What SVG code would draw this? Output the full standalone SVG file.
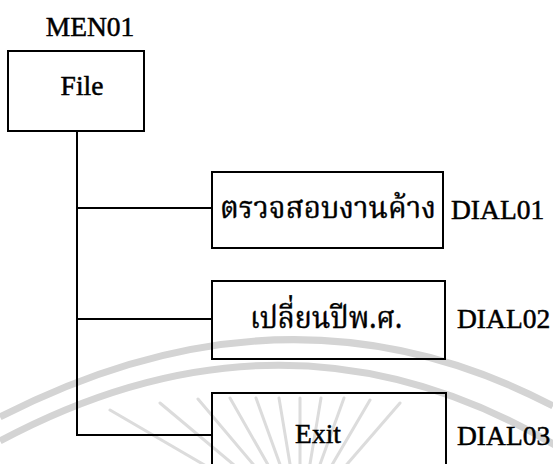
<svg xmlns="http://www.w3.org/2000/svg" width="553" height="464" viewBox="0 0 553 464">
<style>
.box{fill:none;stroke:#000;stroke-width:2}
.ln{fill:none;stroke:#000;stroke-width:2}
.lat{font-family:"Liberation Serif","Times New Roman",serif;font-size:27.5px;fill:#000;stroke:#000;stroke-width:0.5}
.th{font-family:"Noto Serif Thai","Noto Sans Thai","Noto Sans",serif;font-size:31px;fill:#000;stroke:#000;stroke-width:0.4}
.wm{fill:none;stroke:#d4d4d4;stroke-width:7}
.ray{stroke:#dcdcdc;stroke-width:3;stroke-linecap:round}
</style>
<rect width="553" height="464" fill="#fff"/>
<g id="watermark">
<path class="wm" d="M0,417 Q290,268 553,406"/>
<path class="wm" d="M0,441 Q290,286 560,448"/>
<g class="ray">
<line x1="213" y1="470" x2="110" y2="410"/>
<line x1="240" y1="470" x2="160" y2="403"/>
<line x1="258" y1="470" x2="198" y2="399"/>
<line x1="271" y1="470" x2="230" y2="398"/>
<line x1="282" y1="470" x2="256" y2="398"/>
<line x1="291" y1="470" x2="279" y2="398"/>
<line x1="300" y1="470" x2="300" y2="398"/>
<line x1="309" y1="470" x2="321" y2="398"/>
<line x1="318" y1="470" x2="344" y2="398"/>
<line x1="329" y1="470" x2="370" y2="400"/>
<line x1="342" y1="470" x2="400" y2="403"/>
</g>
</g>
<g id="connectors">
<line class="ln" x1="77" y1="131" x2="77" y2="436"/>
<line class="ln" x1="76" y1="208" x2="212" y2="208"/>
<line class="ln" x1="76" y1="319" x2="212" y2="319"/>
<line class="ln" x1="76" y1="435" x2="212" y2="435"/>
</g>
<g id="MEN01">
<text class="lat" x="90" y="36" text-anchor="middle">MEN01</text>
<rect class="box" x="8" y="51" width="136" height="80"/>
<text class="lat" x="82" y="95" text-anchor="middle">File</text>
</g>
<g id="DIAL01">
<rect class="box" x="212" y="172" width="231" height="76"/>
<text class="th" x="220" y="218" textLength="216" lengthAdjust="spacingAndGlyphs">ตรวจสอบงานค้าง</text>
<text class="lat" x="451" y="219">DIAL01</text>
</g>
<g id="DIAL02">
<rect class="box" x="212" y="281" width="233" height="78"/>
<text class="th" x="250" y="328" textLength="152" lengthAdjust="spacingAndGlyphs">เปลี่ยนปีพ.ศ.</text>
<text class="lat" x="457" y="328">DIAL02</text>
</g>
<g id="DIAL03">
<rect class="box" x="212" y="393" width="234" height="80"/>
<text class="lat" x="318" y="443" text-anchor="middle">Exit</text>
<text class="lat" x="457" y="445">DIAL03</text>
</g>
</svg>
